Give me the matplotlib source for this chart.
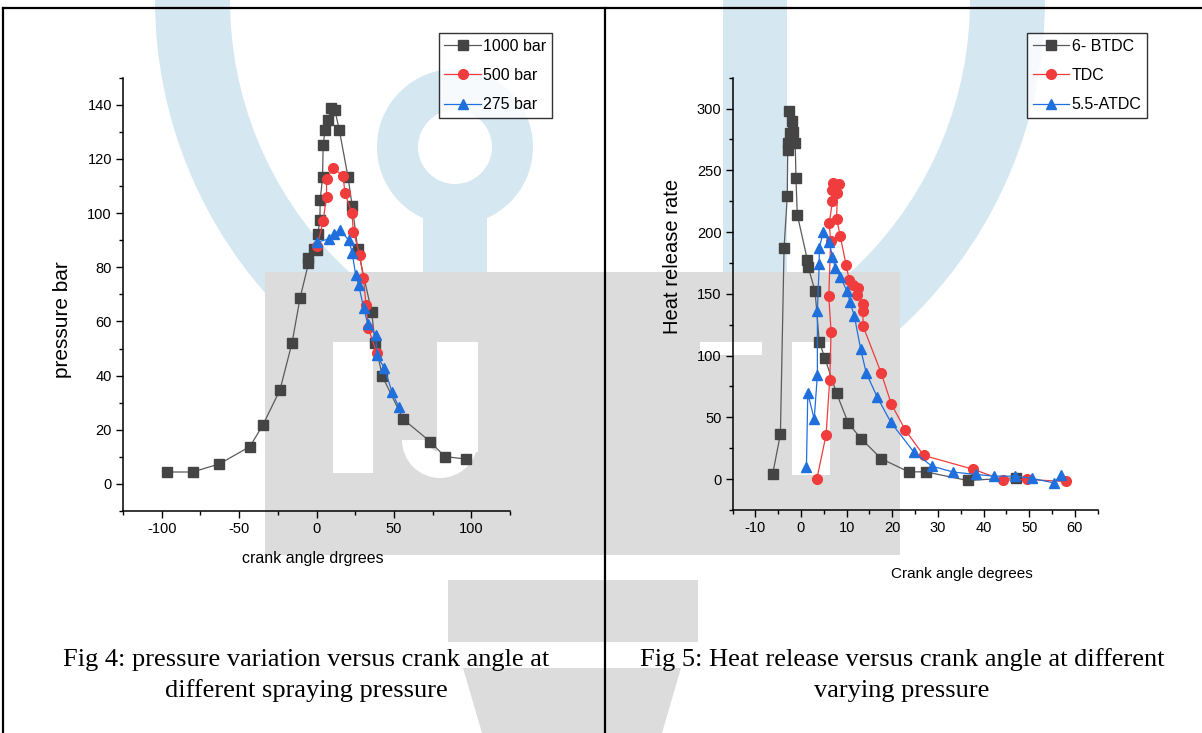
import matplotlib
matplotlib.use("Agg")
import matplotlib.pyplot as plt
from matplotlib.patches import Rectangle, Wedge, Polygon
from matplotlib.ticker import MultipleLocator

# ---------------- data ----------------
# Fig 4: pressure vs crank angle
x_1000 = [-96.7, -80.0, -62.7, -43.0, -34.6, -23.6, -15.8, -10.6, -5.2, -5.2, -1.5, 0.6, 0.9, 2.2, 2.4,
          3.9, 4.3, 5.6, 7.6, 9.1, 11.9, 14.7, 20.3, 23.1, 26.6, 35.7, 37.8, 42.6, 56.0, 73.5, 82.8, 96.5]
y_1000 = [4.4, 4.4, 7.4, 13.8, 21.8, 34.7, 52.1, 68.7, 81.4, 83.4, 86.8, 86.2, 92.4, 97.5, 104.9,
          113.2, 125.2, 130.8, 134.2, 138.8, 137.9, 130.8, 113.5, 102.5, 86.8, 63.3, 52.0, 39.7, 23.9, 15.6, 10.1, 9.2]
x_500 = [0.6, 4.3, 6.5, 6.5, 10.8, 17.3, 18.3, 22.9, 23.8, 27.9, 30.3, 32.0, 33.5, 38.9]
y_500 = [88.0, 97.2, 106.1, 112.6, 116.6, 113.6, 107.4, 100.0, 93.2, 84.7, 76.0, 66.1, 57.5, 48.3]
x_275 = [0.6, 8.1, 11.3, 15.1, 20.9, 23.1, 25.3, 27.2, 30.5, 33.1, 38.3, 38.9, 43.9, 48.7, 53.2]
y_275 = [89.3, 90.5, 92.3, 93.8, 90.0, 85.2, 77.2, 73.5, 65.0, 59.1, 55.0, 47.7, 42.7, 34.1, 28.3]
labels_left = ["1000 bar", "500 bar", "275 bar"]

# Fig 5: heat release rate vs crank angle
x_btdc = [-6.2, -4.5, -3.7, -3.0, -2.9, -2.9, -2.4, -2.6, -1.9, -1.7, -1.25, -1.1, -0.8, 1.4, 1.6,
          3.1, 4.0, 5.2, 7.8, 10.4, 13.2, 17.6, 23.6, 27.3, 36.5, 47.2]
y_btdc = [4.1, 36.5, 187.3, 228.9, 266.8, 272.2, 280.3, 297.8, 289.7, 280.8, 272.2, 244.1, 214.1, 177.6, 171.6,
          152.0, 111.4, 98.4, 69.5, 45.1, 32.7, 16.5, 5.9, 5.9, -1.1, 1.1]
x_tdc = [3.5, 5.5, 6.3, 6.6, 6.1, 6.5, 6.2, 6.9, 6.7, 7.1, 8.3, 8.0, 7.8, 8.6, 9.9, 10.6, 11.5, 12.5, 12.2,
         13.6, 13.6, 13.6, 17.6, 19.8, 22.9, 26.9, 37.8, 44.3, 49.6, 58.0]
y_tdc = [0.5, 35.7, 80.3, 119.0, 148.0, 193.0, 207.0, 225.0, 234.0, 240.0, 239.0, 232.0, 211.0, 197.0, 173.0,
         161.0, 157.0, 155.0, 149.0, 142.0, 136.0, 124.0, 85.7, 60.8, 39.5, 19.2, 7.9, -0.8, -0.3, -1.9]
x_atdc = [1.2, 1.5, 2.9, 3.6, 3.6, 4.0, 4.0, 4.9, 6.2, 6.9, 7.5, 8.6, 10.1, 10.8, 11.7, 13.1, 14.3, 16.7,
          19.7, 24.8, 28.7, 33.4, 38.3, 42.3, 47.0, 50.6, 55.4, 56.9]
y_atdc = [10.0, 69.5, 48.6, 84.3, 136.0, 174.0, 187.0, 200.0, 192.0, 180.0, 171.0, 164.0, 152.0, 143.0, 132.0,
          105.0, 86.0, 66.5, 46.0, 21.6, 10.5, 5.7, 3.8, 2.4, 2.4, 0.6, -3.0, 3.2]
labels_right = ["6- BTDC", "TDC", "5.5-ATDC"]

C_BLACK = "#444444"
C_RED = "#f03c3c"
C_BLUE = "#1f6fdc"
LINE_BLACK = "#5a5a5a"

plt.rcParams['font.family'] = ['Liberation Sans', 'DejaVu Sans']
plt.rcParams['axes.unicode_minus'] = False

W, H = 1202, 733
fig = plt.figure(figsize=(W / 100, H / 100), dpi=100)
fig.patch.set_facecolor("white")

# ---------------- background (watermark + table frame) ----------------
bg = fig.add_axes([0, 0, 1, 1], zorder=0)
bg.set_xlim(0, W)
bg.set_ylim(H, 0)
bg.axis("off")
LB = "#d5e7f1"
GR = "#dcdcdc"
bg.add_patch(Wedge((600, 0), 445, 0, 180, width=75, facecolor=LB, edgecolor="none"))
bg.add_patch(Wedge((455, 147), 78, 0, 360, width=41, facecolor=LB, edgecolor="none"))
bg.add_patch(Rectangle((423, 200), 64, 72, facecolor=LB, edgecolor="none"))
bg.add_patch(Rectangle((723, 0), 64, 272, facecolor=LB, edgecolor="none"))
bg.add_patch(Rectangle((265, 272), 635, 283, facecolor=GR, edgecolor="none"))
bg.add_patch(Rectangle((448, 580), 250, 62, facecolor=GR, edgecolor="none"))
bg.add_patch(Polygon([(463, 668), (681, 668), (662, 733), (482, 733)], facecolor=GR, edgecolor="none"))
# white letter shapes in watermark
for (x0, y0, w, h) in [(333, 342, 40, 131), (437, 342, 41, 110), (792, 342, 38, 133), (700, 342, 62, 13)]:
    bg.add_patch(Rectangle((x0, y0), w, h, facecolor="white", edgecolor="none"))
bg.add_patch(Wedge((440, 440), 38, 0, 180, width=26, facecolor="white", edgecolor="none"))
# table frame
bg.plot([3, W], [8, 8], color="black", lw=1.6)
bg.plot([3, 3], [8, H], color="black", lw=1.6)
bg.plot([605, 605], [8, H], color="black", lw=1.6)


def style_axes(ax, xmaj, xmin, ymaj, ymin):
    ax.set_facecolor("none")
    for s in ("top", "right"):
        ax.spines[s].set_visible(False)
    for s in ("left", "bottom"):
        ax.spines[s].set_linewidth(1.1)
    ax.xaxis.set_major_locator(MultipleLocator(xmaj))
    ax.xaxis.set_minor_locator(MultipleLocator(xmin))
    ax.yaxis.set_major_locator(MultipleLocator(ymaj))
    ax.yaxis.set_minor_locator(MultipleLocator(ymin))
    ax.tick_params(which="major", direction="out", length=5, width=1.0, labelsize=10.5, pad=3)
    ax.tick_params(which="minor", direction="out", length=3, width=1.0)


def fx(px):
    return px / W


def fy(py):
    return 1 - py / H


ms = 6.5
LEG_KW = dict(fontsize=11.5, frameon=True, fancybox=False, edgecolor="black", borderpad=0.35,
              handlelength=2.3, handletextpad=0.15, labelspacing=0.9, borderaxespad=0)

# ---------------- left chart ----------------
ax1 = fig.add_axes([fx(123), fy(511), (510 - 123) / W, (511 - 77.7) / H], zorder=2)
ax1.plot(x_1000, y_1000, color=LINE_BLACK, lw=0.9, marker="s", ms=ms, mfc=C_BLACK, mec=C_BLACK, label=labels_left[0])
ax1.plot(x_500, y_500, color=C_RED, lw=0.9, marker="o", ms=ms + 0.5, mfc=C_RED, mec=C_RED, label=labels_left[1])
ax1.plot(x_275, y_275, color=C_BLUE, lw=0.9, marker="^", ms=ms + 0.5, mfc=C_BLUE, mec=C_BLUE, label=labels_left[2])
ax1.set_xlim(-125, 125)
ax1.set_ylim(-10, 150)
style_axes(ax1, 50, 25, 20, 10)
ax1.set_yticks([0, 20, 40, 60, 80, 100, 120, 140])
leg1 = ax1.legend(loc="upper right", bbox_to_anchor=((552 - 123) / 387, (511 - 33) / 433.3), **LEG_KW)
leg1.get_frame().set_linewidth(1.0)

fig.text(fx(313), fy(559), "crank angle drgrees", ha="center", va="center", fontsize=11.5)
fig.text(fx(62), fy(320), "pressure bar", ha="center", va="center", rotation=90, fontsize=15)

# ---------------- right chart ----------------
ax2 = fig.add_axes([fx(732.5), fy(510), (1097.6 - 732.5) / W, (510 - 77.7) / H], zorder=2)
ax2.plot(x_btdc, y_btdc, color=LINE_BLACK, lw=0.9, marker="s", ms=ms, mfc=C_BLACK, mec=C_BLACK, label=labels_right[0])
ax2.plot(x_tdc, y_tdc, color=C_RED, lw=0.9, marker="o", ms=ms + 0.5, mfc=C_RED, mec=C_RED, label=labels_right[1])
ax2.plot(x_atdc, y_atdc, color=C_BLUE, lw=0.9, marker="^", ms=ms + 0.5, mfc=C_BLUE, mec=C_BLUE, label=labels_right[2])
ax2.set_xlim(-15, 65)
ax2.set_ylim(-25, 325)
style_axes(ax2, 10, 5, 50, 25)
ax2.set_yticks([0, 50, 100, 150, 200, 250, 300])
leg2 = ax2.legend(loc="upper right", bbox_to_anchor=((1147 - 732.5) / 365, (510 - 33) / 432.3), **LEG_KW)
leg2.get_frame().set_linewidth(1.0)

fig.text(fx(962), fy(574), "Crank angle degrees", ha="center", va="center", fontsize=11)
fig.text(fx(673), fy(256), "Heat release rate", ha="center", va="center", rotation=90, fontsize=14.5)

# ---------------- captions ----------------
cap_font = ['Liberation Serif', 'DejaVu Serif']
fig.text(fx(306), fy(660), "Fig 4: pressure variation versus crank angle at", ha="center", va="center",
         fontsize=19, family=cap_font)
fig.text(fx(306), fy(691), "different spraying pressure", ha="center", va="center", fontsize=19, family=cap_font)
fig.text(fx(902), fy(660), "Fig 5: Heat release versus crank angle at different", ha="center", va="center",
         fontsize=19, family=cap_font)
fig.text(fx(902), fy(691), "varying pressure", ha="center", va="center", fontsize=19, family=cap_font)

fig.savefig("out.png", dpi=100)
